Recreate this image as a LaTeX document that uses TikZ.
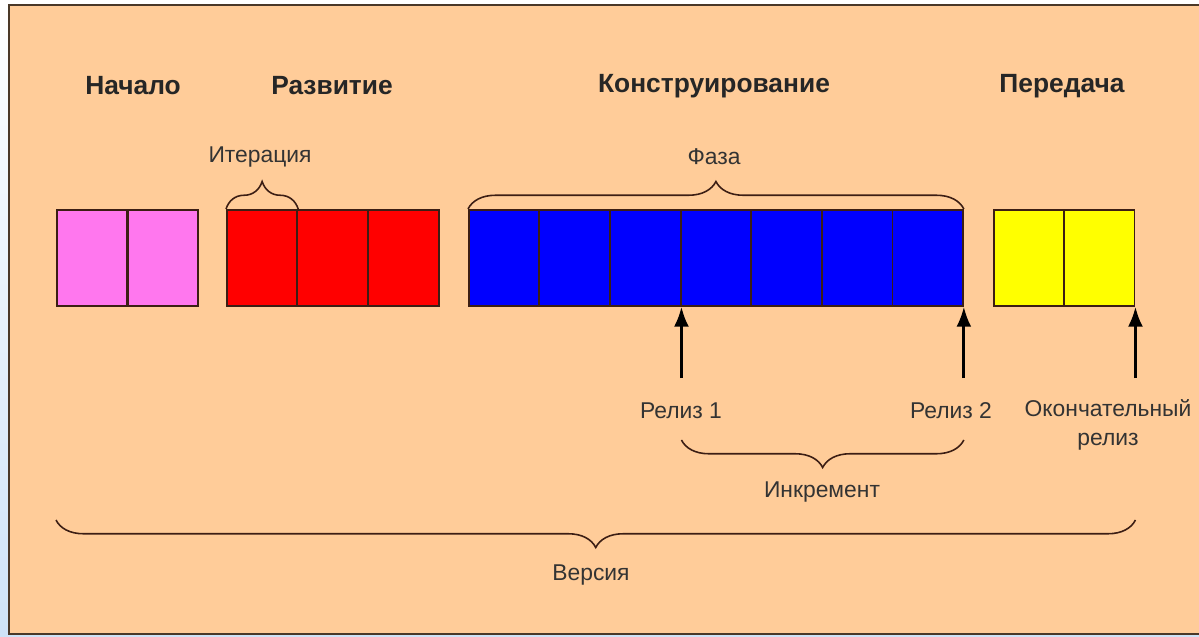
\documentclass[tikz,border=0pt]{standalone}
\usepackage{fontspec}
\setmainfont{Liberation Sans}
\usetikzlibrary{decorations.pathreplacing,arrows.meta}

\definecolor{peach}{HTML}{FFCC99}
\definecolor{frameline}{HTML}{4A3828}
\definecolor{edge}{HTML}{3C1E14}
\definecolor{skyside}{HTML}{CFE3F7}
\definecolor{pinkcell}{HTML}{FF77EE}
\definecolor{redcell}{HTML}{FF0000}
\definecolor{bluecell}{HTML}{0000FF}
\definecolor{yellowcell}{HTML}{FFFF00}

\tikzset{
	cell/.style={draw=edge, line width=1pt, minimum width=1.41cm, minimum height=1.92cm, anchor=north west, inner sep=0pt},
	phasename/.style={font=\fontsize{15}{18}\selectfont\bfseries, text=black!85},
	txt/.style={font=\fontsize{13}{16.5}\selectfont, text=black!80, align=center},
	curly/.style={decorate, decoration={brace, amplitude=0.55cm}, draw=edge, line width=0.9pt},
	release/.style={-{Latex[length=4mm,width=3mm]}, line width=1.6pt, draw=black}
}

\begin{document}
\begin{tikzpicture}[x=0.02cm, y=-0.02cm]
		%%%%% START %%%%%
		\useasboundingbox (0,0) rectangle (1199,636);
		\shade[top color=white, bottom color=skyside] (0,0) rectangle (1199,636);
		\draw[fill=peach, draw=frameline, line width=1.2pt] (9,5) rectangle (1215,634);
		
		% phase names
		\node[phasename] (hStart) at (133,86) {Начало};
		\node[phasename] (hElab) at (332,86) {Развитие};
		\node[phasename] (hConstr) at (714,86) {Конструирование};
		\node[phasename] (hTrans) at (1062,86) {Передача};
		
		% iterations
		\foreach \i in {1,2} {
			\node[cell, fill=pinkcell] (p\i) at ({56+71*(\i-1)},209) {};
		}
		\foreach \i in {1,2,3} {
			\node[cell, fill=redcell] (r\i) at ({226+70.7*(\i-1)},209) {};
		}
		\foreach \i in {1,...,7} {
			\node[cell, fill=bluecell] (b\i) at ({468+70.6*(\i-1)},209) {};
		}
		\foreach \i in {1,2} {
			\node[cell, fill=yellowcell] (y\i) at ({993+70.2*(\i-1)},209) {};
		}
		
		% braces above
		\draw[curly] (r1.north west) -- (r1.north east);
		\node[txt] (iter) at (260,157) {Итерация};
		\draw[curly] (b1.north west) -- (b7.north east);
		\node[txt] (phase) at (714,157) {Фаза};
		
		% releases
		\coordinate (a1) at (b3.south east |- 0,378);
		\coordinate (a2) at (b7.south east |- 0,378);
		\coordinate (a3) at (y2.south east |- 0,378);
		\draw[release] (a1) -- (b3.south east);
		\draw[release] (a2) -- (b7.south east);
		\draw[release] (a3) -- (y2.south east);
		\node[txt] (rel1) at (681,411) {Релиз 1};
		\node[txt] (rel2) at (951,411) {Релиз 2};
		\node[txt] (relfin) at (1108,425) {Окончательный\\релиз};
		
		% braces below
		\draw[curly] (a2 |- 0,440) -- (a1 |- 0,440);
		\node[txt] (incr) at (822,492) {Инкремент};
		\draw[curly] (a3 |- 0,520) -- (p1.south west |- 0,520);
		\node[txt] (vers) at (591,575) {Версия};
		
		%%%%% END %%%%%
	\end{tikzpicture}
\end{document}
